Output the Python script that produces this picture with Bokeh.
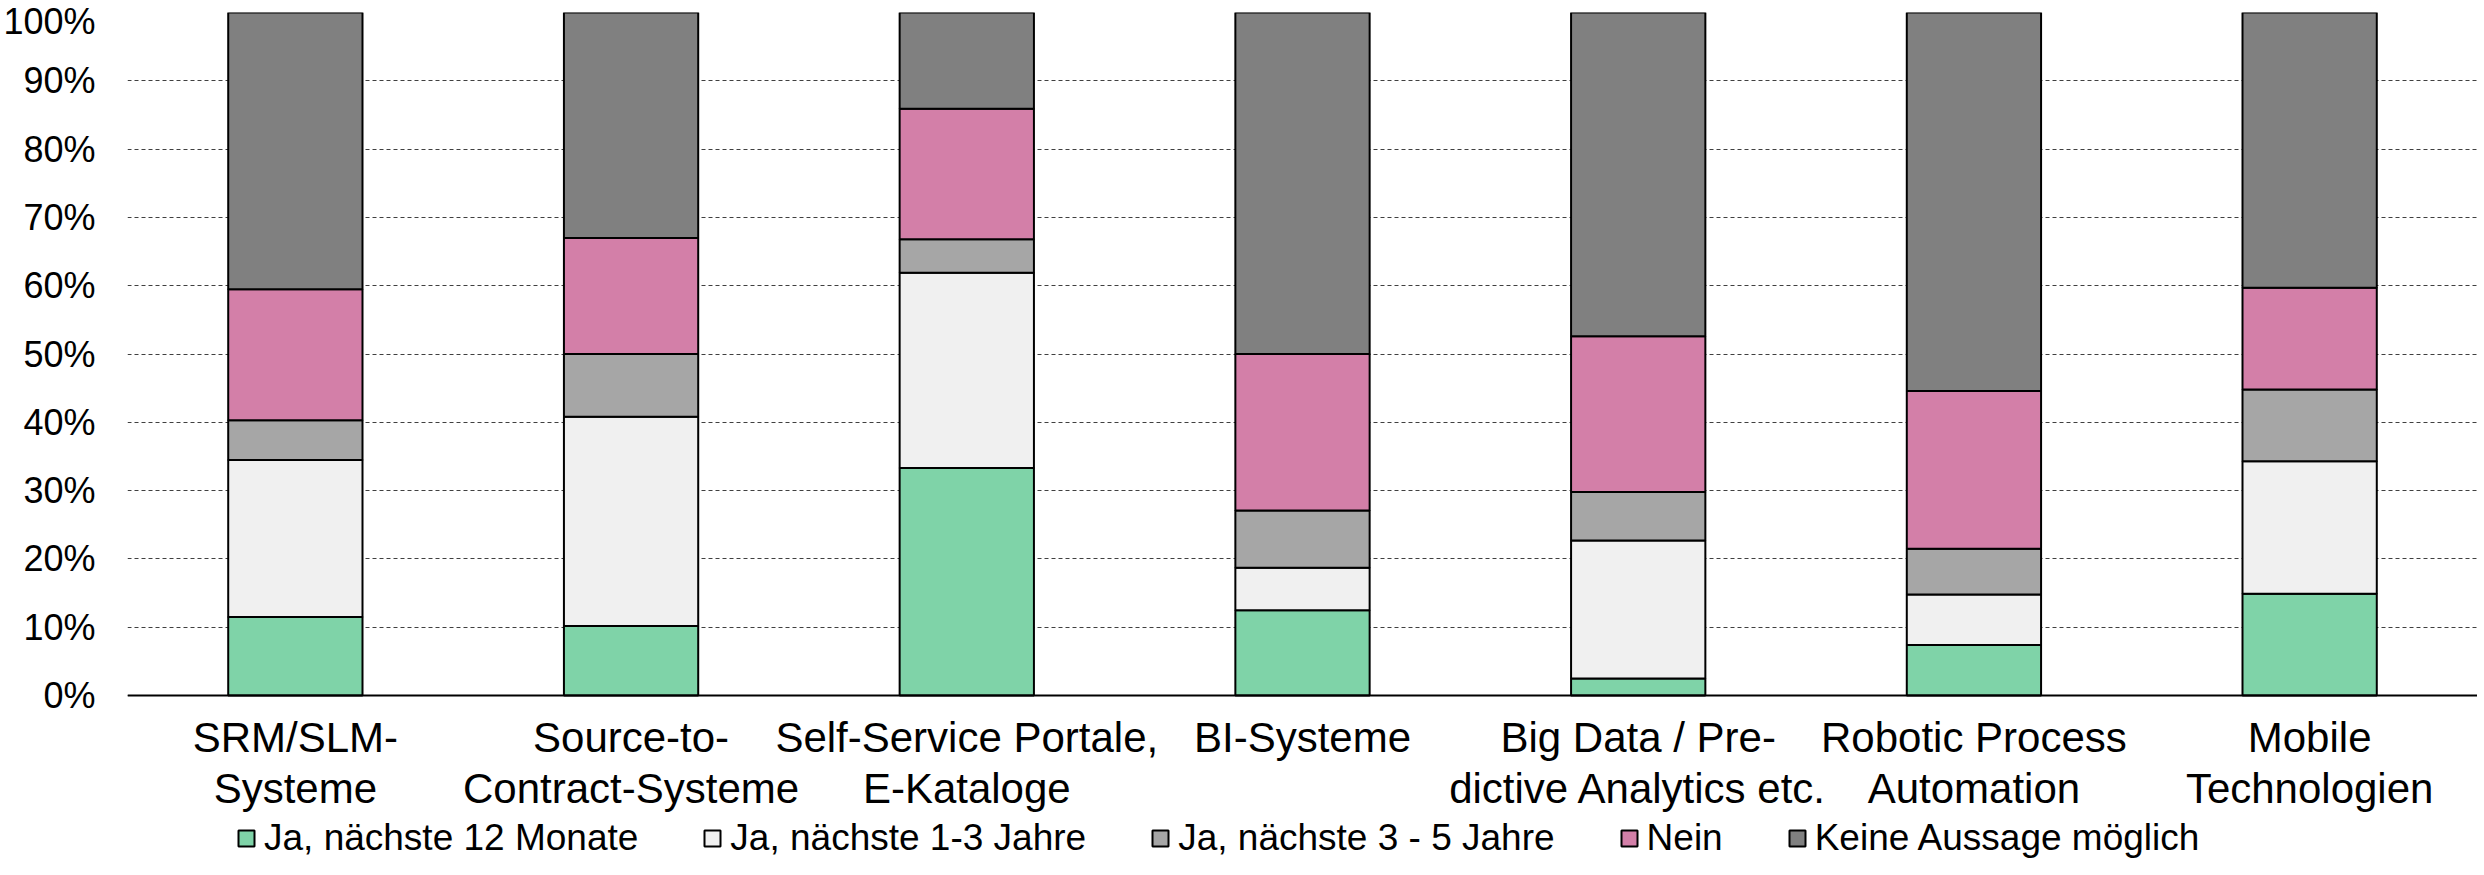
from bokeh.plotting import figure
from bokeh.models import FactorRange, Range1d, FixedTicker, PrintfTickFormatter, Legend
from bokeh.embed import file_html
from bokeh.resources import INLINE

categories = ["SRM/SLM-\nSysteme", "Source-to-\nContract-Systeme", "Self-Service Portale,\nE-Kataloge",
              "BI-Systeme", "Big Data / Pre-\ndictive Analytics etc.", "Robotic Process\nAutomation",
              "Mobile\nTechnologien"]
series_names = ["Ja, nächste 12 Monate", "Ja, nächste 1-3 Jahre", "Ja, nächste 3 - 5 Jahre",
                "Nein", "Keine Aussage möglich"]
ja_12_monate = [11.5, 10.2, 33.3, 12.5, 2.5, 7.4, 14.9]
ja_1_3_jahre = [23.0, 30.6, 28.6, 6.2, 20.2, 7.4, 19.4]
ja_3_5_jahre = [5.8, 9.2, 4.9, 8.4, 7.1, 6.7, 10.5]
nein = [19.2, 17.0, 19.1, 22.9, 22.8, 23.1, 14.9]
keine_aussage = [40.5, 33.0, 14.1, 50.0, 47.4, 55.4, 40.3]
tick_values = list(range(0, 101, 10))

colors = ["#7FD3A8", "#F0F0F0", "#A6A6A6", "#D37FA8", "#808080"]
keys = ["s0", "s1", "s2", "s3", "s4"]
data = {"cat": categories, "s0": ja_12_monate, "s1": ja_1_3_jahre, "s2": ja_3_5_jahre,
        "s3": nein, "s4": keine_aussage}

FONT = "Liberation Sans"

# frame extends below 0 % so that the category labels and legend live inside it
p = figure(frame_width=2350, frame_height=847, x_range=FactorRange(*categories, range_padding=0),
           y_range=Range1d(-24.0, 100), output_backend="svg", toolbar_location=None,
           min_border_top=12, min_border_right=0, min_border_left=118, min_border_bottom=0)
p.outline_line_color = None

renderers = p.vbar_stack(keys, x="cat", width=0.4, source=data, fill_color=colors,
                         line_color="black", line_width=2)

p.xgrid.grid_line_color = None
p.ygrid.grid_line_color = "#404040"
p.ygrid.grid_line_dash = "4 3"
p.ygrid.grid_line_width = 1
p.ygrid.ticker = FixedTicker(ticks=tick_values)

p.yaxis.ticker = FixedTicker(ticks=tick_values)
p.yaxis.formatter = PrintfTickFormatter(format="%d%%")
p.yaxis.axis_line_color = None
p.yaxis.major_tick_line_color = None
p.yaxis.minor_tick_line_color = None
p.yaxis.major_label_standoff = 26
p.yaxis.major_label_text_font = FONT
p.yaxis.major_label_text_font_size = "36px"
p.yaxis.major_label_text_color = "black"

p.xaxis.fixed_location = 0
p.xaxis.axis_line_color = "black"
p.xaxis.axis_line_width = 2
p.xaxis.major_tick_line_color = None
p.xaxis.major_label_standoff = 12
p.xaxis.major_label_text_font = FONT
p.xaxis.major_label_text_font_size = "42px"
p.xaxis.major_label_text_color = "black"
p.xaxis.major_label_text_line_height = 1.1

legend = Legend(items=[(n, [r]) for n, r in zip(series_names, renderers)],
                orientation="horizontal", location=(109, 0))
legend.label_text_font = FONT
legend.label_text_font_size = "37px"
legend.label_text_color = "black"
legend.glyph_width = 20
legend.glyph_height = 20
legend.label_standoff = 8
legend.spacing = 64
legend.padding = 0
legend.margin = 0
legend.border_line_color = None
legend.background_fill_color = None
legend.background_fill_alpha = 0
p.add_layout(legend, "center")

open("out.html", "w").write(file_html(p, INLINE))
